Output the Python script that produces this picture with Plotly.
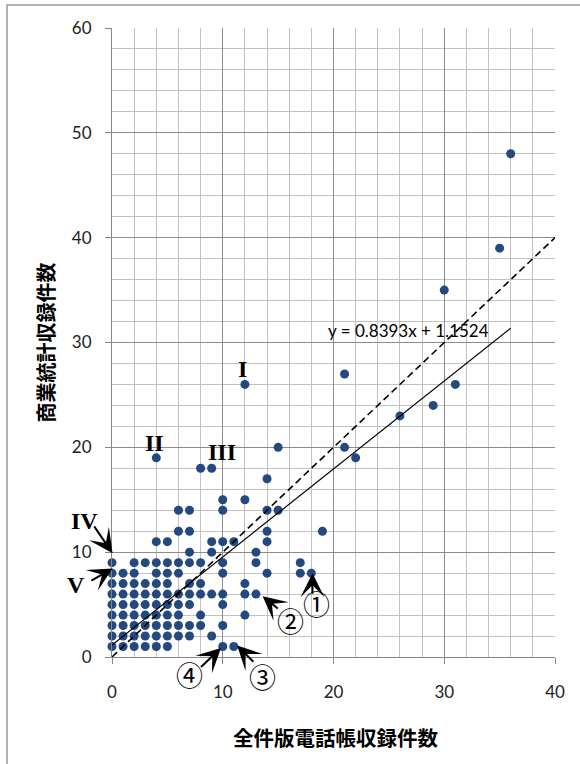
import plotly.graph_objects as go

# ---- data: (全件版電話帳収録件数, 商業統計収録件数) pairs ----
phone_x = [
    0, 1, 2, 3, 4, 5, 10, 11,                      # y=1
    0, 1, 2, 3, 4, 5, 6, 7, 9,                     # y=2
    0, 1, 2, 3, 4, 5, 6, 7, 8, 10,                 # y=3
    0, 1, 2, 3, 4, 5, 6, 8, 12,                    # y=4
    0, 1, 2, 3, 4, 5, 6, 7, 10,                    # y=5
    0, 1, 2, 3, 4, 5, 6, 7, 8, 9, 10, 12, 13,      # y=6
    0, 1, 2, 3, 4, 5, 7, 8, 12,                    # y=7
    0, 1, 2, 4, 5, 6, 10, 14, 17, 18,              # y=8
    0, 2, 3, 4, 5, 6, 7, 8, 10, 13, 17,            # y=9
    7, 9, 13,                                      # y=10
    4, 5, 9, 10, 11, 14,                           # y=11
    6, 7, 14, 19,                                  # y=12
    6, 7, 10, 14, 15,                              # y=14
    10, 12,                                        # y=15
    14,                                            # y=17
    8, 9,                                          # y=18
    4, 22,                                         # y=19
    15, 21,                                        # y=20
    26,                                            # y=23
    29,                                            # y=24
    12, 31,                                        # y=26
    21,                                            # y=27
    30,                                            # y=35
    35,                                            # y=39
    36,                                            # y=48
]
commerce_y = [
    1, 1, 1, 1, 1, 1, 1, 1,
    2, 2, 2, 2, 2, 2, 2, 2, 2,
    3, 3, 3, 3, 3, 3, 3, 3, 3, 3,
    4, 4, 4, 4, 4, 4, 4, 4, 4,
    5, 5, 5, 5, 5, 5, 5, 5, 5,
    6, 6, 6, 6, 6, 6, 6, 6, 6, 6, 6, 6, 6,
    7, 7, 7, 7, 7, 7, 7, 7, 7,
    8, 8, 8, 8, 8, 8, 8, 8, 8, 8,
    9, 9, 9, 9, 9, 9, 9, 9, 9, 9, 9,
    10, 10, 10,
    11, 11, 11, 11, 11, 11,
    12, 12, 12, 12,
    14, 14, 14, 14, 14,
    15, 15,
    17,
    18, 18,
    19, 19,
    20, 20,
    23,
    24,
    26, 26,
    27,
    35,
    39,
    48,
]

# reference line y = x and regression trendline
diag_x = [0, 40]
diag_y = [0, 40]
slope = 0.8393
intercept = 1.1524
trend_x = [0, 36]
trend_y = [slope * v + intercept for v in trend_x]

x_title = "全件版電話帳収録件数"
y_title = "商業統計収録件数"
eq_text = "y = 0.8393x + 1.1524"

X_MAX, Y_MAX = 40, 60

fig = go.Figure()
fig.add_trace(go.Scatter(
    x=phone_x, y=commerce_y, mode="markers",
    marker=dict(size=9, color="#23497F"),
    cliponaxis=False, hoverinfo="skip", showlegend=False))
fig.add_trace(go.Scatter(
    x=diag_x, y=diag_y, mode="lines",
    line=dict(color="black", width=1.6, dash="7px,4px"),
    cliponaxis=False, hoverinfo="skip", showlegend=False))
fig.add_trace(go.Scatter(
    x=trend_x, y=trend_y, mode="lines",
    line=dict(color="black", width=1.2),
    cliponaxis=False, hoverinfo="skip", showlegend=False))

axis_common = dict(
    showgrid=True, gridcolor="#8C8C8C", gridwidth=1,
    zeroline=False, showline=True, linecolor="#868686", linewidth=1,
    ticks="outside", ticklen=6, tickcolor="#868686", tickwidth=1,
    tickfont=dict(family="Lato", size=17, color="#222222"),
    minor=dict(dtick=2, showgrid=True, gridcolor="#C2C2C2", gridwidth=1, ticks=""),
    fixedrange=True,
)
fig.update_xaxes(range=[0, X_MAX], dtick=10, tick0=0, ticklabelstandoff=14, **axis_common)
fig.update_yaxes(range=[0, Y_MAX], dtick=10, tick0=0, ticklabelstandoff=10, **axis_common)


def P(x, y):
    return x / X_MAX, y / Y_MAX


annotations = []


def label(text, x, y, family, size, bold=False):
    px_, py_ = P(x, y)
    annotations.append(dict(
        text=f"<b>{text}</b>" if bold else text,
        x=px_, y=py_, xref="paper", yref="paper",
        showarrow=False, xanchor="center", yanchor="middle",
        font=dict(family=family, size=size, color="black")))


def arrow(tip, tail):
    annotations.append(dict(
        text="", x=tip[0], y=tip[1], ax=tail[0], ay=tail[1],
        xref="x", yref="y", axref="x", ayref="y",
        showarrow=True, arrowhead=3, arrowsize=2.0, arrowwidth=2,
        arrowcolor="black", standoff=0, startstandoff=0))


serif = "Liberation Serif"
cjk = "Noto Sans CJK JP"
label("I", 11.8, 27.5, serif, 24, True)
label("II", 3.85, 20.4, serif, 24, True)
label("III", 9.9, 19.6, serif, 24, True)
label("IV", -2.5, 13.0, serif, 24, True)
label("V", -3.25, 6.9, serif, 24, True)
label("①", 18.5, 5.1, cjk, 27)
label("②", 16.1, 3.5, cjk, 27)
label("③", 13.6, -1.9, cjk, 27)
label("④", 7.0, -1.7, cjk, 27)
label(eq_text, 26.8, 31.1, "Lato", 17)

arrow((0.05, 9.9), (-1.7, 12.6))
arrow((0.05, 8.45), (-2.0, 7.2))
arrow((18.1, 8.0), (18.1, 5.9))
arrow((13.6, 5.8), (15.1, 4.5))
arrow((11.3, 1.1), (12.9, -0.6))
arrow((9.84, 0.87), (7.9, -1.1))

# axis titles
annotations.append(dict(
    text=f"<b>{x_title}</b>", x=0.5056, y=-0.127, xref="paper", yref="paper",
    showarrow=False, xanchor="center", yanchor="middle",
    font=dict(family=cjk, size=20.5, color="black")))
annotations.append(dict(
    text=f"<b>{y_title}</b>", x=-0.151, y=0.5, xref="paper", yref="paper",
    showarrow=False, xanchor="center", yanchor="middle", textangle=-90,
    font=dict(family=cjk, size=20, color="black")))

fig.update_layout(
    width=580, height=764,
    margin=dict(l=112, r=25, t=28, b=107),
    paper_bgcolor="white", plot_bgcolor="white",
    annotations=annotations,
    shapes=[dict(type="rect", xref="paper", yref="paper",
                 x0=-0.237, x1=1.2, y0=-0.3, y1=1.0366,
                 line=dict(color="#9A9A9A", width=1.5), fillcolor="rgba(0,0,0,0)",
                 layer="above")],
    showlegend=False,
)

fig.write_html(
    "out.html",
    config={"displayModeBar": False, "staticPlot": True},
    post_script="document.body.style.margin='0';document.body.style.overflow='hidden';",
)
